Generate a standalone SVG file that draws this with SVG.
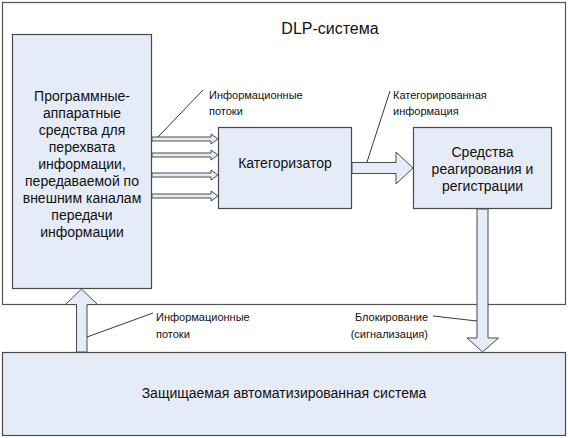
<svg xmlns="http://www.w3.org/2000/svg" width="568" height="438" viewBox="0 0 568 438">
<style>
.box{fill:#e6ecf7;stroke:#4a4a4a;stroke-width:1.2}
.outer{fill:#ffffff;stroke:#555;stroke-width:1.2}
.arr{fill:#e6ecf7;stroke:#4a4a4a;stroke-width:1}
.lead{fill:none;stroke:#222;stroke-width:0.9}
.t{font-family:"Liberation Sans",Arial,sans-serif;font-size:14px;fill:#111;text-anchor:middle}
.s{font-family:"Liberation Sans",Arial,sans-serif;font-size:11px;fill:#111}
</style>
<rect x="0" y="0" width="568" height="438" fill="#ffffff"/>
<g id="dlp">
<rect class="outer" x="2.5" y="2.5" width="563" height="302"/>
<text class="t" x="330" y="34" style="font-size:16px">DLP-система</text>
</g>
<g id="intercept">
<rect class="box" x="12.5" y="34.5" width="139" height="254"/>
<text class="t" x="82" y="101">Программные-</text>
<text class="t" x="82" y="118">аппаратные</text>
<text class="t" x="82" y="135">средства для</text>
<text class="t" x="82" y="152">перехвата</text>
<text class="t" x="82" y="169">информации,</text>
<text class="t" x="82" y="186">передаваемой по</text>
<text class="t" x="82" y="203">внешним каналам</text>
<text class="t" x="82" y="220">передачи</text>
<text class="t" x="82" y="237">информации</text>
</g>
<g id="categorizer">
<rect class="box" x="218.5" y="127.5" width="133" height="81"/>
<text class="t" x="285" y="168">Категоризатор</text>
</g>
<g id="response">
<rect class="box" x="413.5" y="127.5" width="138" height="81"/>
<text class="t" x="482.5" y="157">Средства</text>
<text class="t" x="482.5" y="174">реагирования и</text>
<text class="t" x="482.5" y="191">регистрации</text>
</g>
<g id="protected">
<rect class="box" x="2.5" y="352.5" width="563" height="83"/>
<text class="t" x="284" y="398">Защищаемая автоматизированная система</text>
</g>
<g id="connectors">
<path class="arr" d="M152,137 H211 V134 L218,139 L211,144 V141 H152 Z"/>
<path class="arr" d="M152,153 H211 V150 L218,155 L211,160 V157 H152 Z"/>
<path class="arr" d="M152,173 H211 V170 L218,175 L211,180 V177 H152 Z"/>
<path class="arr" d="M152,194 H211 V191 L218,196 L211,201 V198 H152 Z"/>
<path class="arr" d="M352,162.5 H396 V152 L413,168 L396,184 V173.5 H352 Z"/>
<path class="arr" d="M76.5,352 V304.5 H65.5 L81.5,289 L97.5,304.5 H87 V352 Z"/>
<path class="arr" d="M477,209 V338 H467 L482.5,352 L498.5,338 H488 V209 Z"/>
<line class="lead" x1="158" y1="137" x2="203" y2="90"/>
<line class="lead" x1="367" y1="162" x2="390" y2="91"/>
<line class="lead" x1="87" y1="337" x2="153" y2="313"/>
<line class="lead" x1="433" y1="316" x2="477" y2="321"/>
<text class="s" x="209" y="99">Информационные</text>
<text class="s" x="209" y="115">потоки</text>
<text class="s" x="393" y="99">Категорированная</text>
<text class="s" x="393" y="115">информация</text>
<text class="s" x="156" y="321">Информационные</text>
<text class="s" x="156" y="338">потоки</text>
<text class="s" x="428" y="321" text-anchor="end">Блокирование</text>
<text class="s" x="428" y="338" text-anchor="end">(сигнализация)</text>
</g>
</svg>
